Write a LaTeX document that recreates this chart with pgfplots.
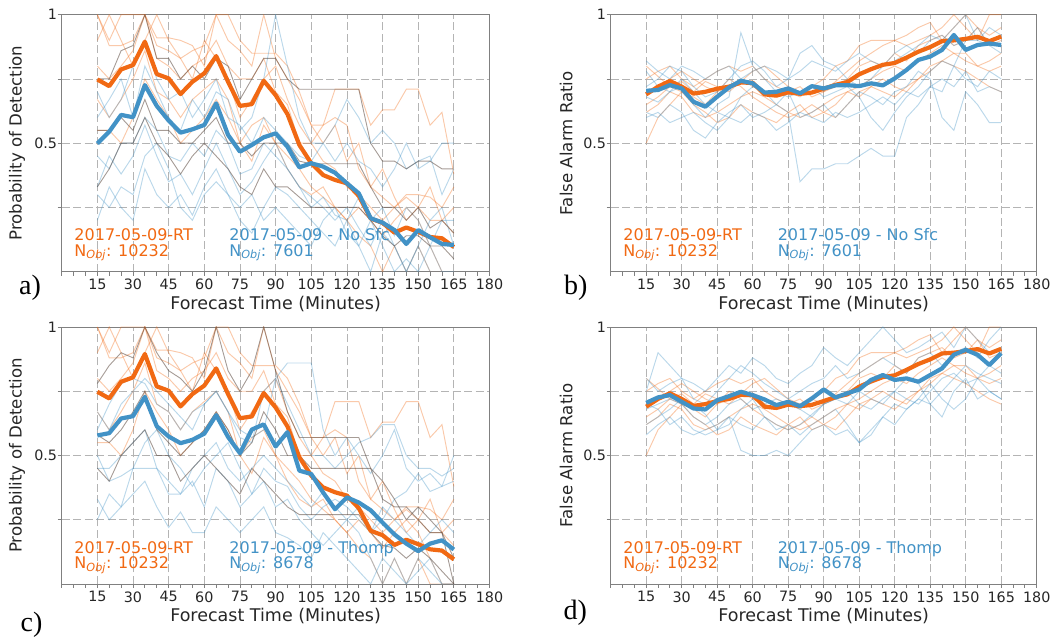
\documentclass[border=0pt]{standalone}
\usepackage{fontspec}
\setmainfont{DejaVu Sans}
\newfontfamily\panelfont{Liberation Serif}
\usepackage{pgfplots}
\usepackage{pgfplotstable}
\pgfplotsset{compat=1.18}

\definecolor{RT}{HTML}{F16913}
\definecolor{Exp}{HTML}{4292C6}
\definecolor{Grid}{HTML}{B4B4B4}
\definecolor{Frame}{HTML}{808080}
\definecolor{Shared}{HTML}{5C4A40}

% probability of detection, RT run (same in a and c): mean + members
\pgfplotstableread{
t mean m1 m2 m3 m4 m5 m6
15 .748 1.0 .8 .67 .9 .55 1.0
20 .722 .88 .75 .6 1.0 .55 .9
25 .787 .88 .8 .67 .9 .5 1.0
30 .804 .9 .86 .75 .8 .6 1.0
35 .895 1.0 1.0 .86 .9 .75 1.0
40 .769 .88 .83 .7 1.0 .67 .91
45 .752 .86 .8 .67 .9 .6 .91
50 .691 .83 .75 .6 .83 .5 .9
55 .739 .86 .8 .67 .75 .55 .88
60 .772 .88 .83 .71 .9 .6 .8
65 .839 1.0 .9 .75 .83 .67 1.0
70 .739 .9 .8 .67 .75 .6 1.0
75 .645 .86 .75 .5 .6 .5 .9
80 .652 .8 .75 .57 .67 .43 .85
85 .743 1.0 .83 .6 .75 .57 .85
90 .687 .83 .7 .5 .8 .5 .85
95 .613 .75 .65 .45 .67 .4 .8
100 .493 .67 .5 .4 .57 .33 .7
105 .422 .57 .5 .33 .5 .3 .57
110 .376 .5 .43 .29 .57 .33 .57
115 .357 .57 .4 .25 .71 .25 .6
120 .344 .43 .33 .2 .71 .2 .57
125 .295 .5 .3 .14 .71 .25 .4
130 .207 .33 .25 .1 .57 .2 .33
135 .190 .4 .2 0 .63 .14 .29
140 .152 .29 .25 .1 .63 .2 .25
145 .172 .2 .29 0 .71 .25 .3
150 .155 .25 .25 .1 .71 .2 .3
155 .135 .33 .2 0 .57 .1 .29
160 .130 .2 .2 0 .62 0 .25
165 .096 .25 .15 0 .38 0 .33
}\podRT

\pgfplotstableread{
t mean m1 m2 m3 m4 m5 m6
15 .499 .33 .2 .6 .45 .7 .3
20 .545 .45 .33 .67 .4 .6 .25
25 .610 .38 .25 .75 .5 .67 .33
30 .601 .45 .2 .6 .5 .8 .3
35 .726 .57 .4 .8 .6 .9 .45
40 .645 .45 .3 .7 .55 .75 .5
45 .588 .35 .25 .6 .45 .67 .4
50 .541 .38 .3 .55 .43 .7 .25
55 .554 .3 .22 .67 .5 .6 .2
60 .571 .4 .33 .6 .45 .67 .3
65 .655 .5 .4 .7 .55 .75 .35
70 .532 .4 .3 .67 .5 .6 .3
75 .467 .3 .2 .55 .38 .57 .25
80 .493 .35 .15 .6 .4 .5 .3
85 .523 .43 .25 .75 .5 .6 .2
90 .538 .5 .33 1.0 .45 .55 .25
95 .486 .4 .3 .8 .4 .5 .2
100 .406 .33 .25 .6 .33 .45 .15
105 .422 .29 .2 .5 .25 .43 .1
110 .409 .25 .15 .5 .29 .5 .2
115 .385 .2 .1 .43 .22 .57 .25
120 .344 .25 .2 .5 .2 .67 .15
125 .305 .17 .1 .43 .29 .6 .1
130 .208 .1 0 .4 .2 .5 .2
135 .191 .2 .15 .33 .25 .55 .1
140 .162 .1 .1 .4 .14 .5 0
145 .108 0 0 .5 .25 .4 .05
150 .162 .1 .1 .4 .2 .43 0
155 .134 .2 0 .43 .1 .45 .1
160 .108 .25 0 .5 .2 .3 0
165 .104 .1 0 .5 .2 .4 0
}\podNoSfc

\pgfplotstableread{
t mean m1 m2 m3 m4 m5 m6
15 .578 .25 .6 .45 .33 .67 .5
20 .587 .35 .7 .45 .25 .6 .4
25 .644 .3 .78 .5 .3 .7 .42
30 .653 .45 .8 .55 .35 .75 .45
35 .728 .45 .78 .6 .4 .8 .55
40 .614 .45 .7 .45 .3 .75 .6
45 .574 .35 .67 .4 .22 .7 .5
50 .548 .35 .6 .35 .28 .65 .45
55 .561 .4 .67 .45 .2 .6 .38
60 .585 .3 .7 .5 .2 .7 .45
65 .657 .45 .75 .55 .3 .75 .5
70 .572 .4 .67 .45 .25 .67 .55
75 .509 .3 .6 .4 .2 .57 .45
80 .601 .35 .57 .45 .25 .55 .35
85 .621 .4 .6 .5 .3 .75 .45
90 .535 .3 .8 .45 .2 .8 .4
95 .591 .33 .86 .4 .18 .7 .38
100 .441 .25 .86 .35 .15 .6 .3
105 .428 .2 .86 .3 .1 .5 .25
110 .356 .15 .6 .36 .2 .5 .3
115 .291 .2 .5 .3 .15 .45 .33
120 .337 .25 .57 .25 .1 .5 .3
125 .317 .2 .5 .3 .05 .55 .25
130 .287 .1 .43 .2 0 .57 .2
135 .239 0 .5 .25 .1 .62 .3
140 .193 .1 .6 .33 .05 .62 .25
145 .157 0 .45 .36 0 .5 .2
150 .128 .05 .4 .43 .1 .45 .15
155 .157 .1 .43 .36 .05 .45 .2
160 .170 0 .38 .38 0 .42 .25
165 .134 0 .5 .4 0 .45 .2
}\podThomp

% members that both runs share (drawn darker)
\pgfplotstableread{
t s1 s2 s3
15 .75 .55 .33
20 .75 .55 .4
25 .86 .6 .5
30 .88 .55 .5
35 1.0 .67 .6
40 .83 .55 .5
45 .83 .55 .45
50 .75 .5 .38
55 .8 .5 .45
60 .75 .55 .5
65 .83 .6 .45
70 .8 .5 .4
75 .67 .5 .33
80 .75 .45 .3
85 .83 .5 .4
90 .83 .5 .33
95 .75 .5 .33
100 .71 .43 .29
105 .71 .42 .25
110 .71 .42 .25
115 .71 .42 .25
120 .71 .42 .25
125 .71 .42 .25
130 .5 .33 .2
135 .43 .25 .14
140 .43 .25 .1
145 .4 .2 .14
150 .43 .25 .14
155 .43 .17 .1
160 .4 .2 .1
165 .4 .15 .05
}\shareA

\pgfplotstableread{
t s1 s2 s3
15 .78 .58 .45
20 .85 .55 .4
25 .9 .6 .5
30 .88 .67 .55
35 1.0 .75 .6
40 .9 .6 .5
45 .83 .55 .5
50 .8 .5 .4
55 .75 .55 .45
60 .83 .6 .5
65 1.0 .67 .45
70 .83 .6 .4
75 .75 .5 .35
80 .83 .55 .45
85 1.0 .67 .4
90 .83 .6 .35
95 .67 .5 .3
100 .57 .5 .27
105 .57 .45 .27
110 .57 .45 .27
115 .57 .45 .27
120 .57 .45 .27
125 .57 .45 .27
130 .45 .45 .2
135 .4 .33 .15
140 .33 .3 .14
145 .25 .3 .1
150 .3 .25 .14
155 .25 .2 .1
160 .2 .2 .05
165 0 .1 0
}\shareC

% false alarm ratio
\pgfplotstableread{
t mean m1 m2 m3 m4 m5 m6
15 .69 .75 .62 .5 .7 .65 .8
20 .72 .78 .65 .6 .72 .68 .76
25 .742 .8 .7 .65 .75 .72 .72
30 .72 .75 .68 .7 .78 .7 .74
35 .693 .72 .62 .65 .75 .68 .7
40 .70 .75 .6 .62 .72 .65 .74
45 .712 .78 .62 .58 .7 .7 .72
50 .72 .8 .65 .6 .72 .75 .7
55 .736 .78 .68 .65 .75 .72 .74
60 .735 .8 .7 .62 .72 .68 .78
65 .69 .75 .68 .6 .7 .65 .8
70 .685 .72 .65 .58 .68 .62 .76
75 .698 .7 .62 .62 .7 .6 .72
80 .692 .68 .6 .65 .72 .62 .7
85 .697 .72 .62 .6 .68 .65 .72
90 .712 .75 .65 .62 .7 .62 .7
95 .727 .8 .68 .6 .74 .65 .72
100 .738 .82 .7 .65 .78 .7 .75
105 .768 .88 .72 .7 .82 .68 .8
110 .788 .9 .75 .72 .85 .72 .82
115 .805 .9 .78 .7 .88 .75 .8
120 .812 .9 .8 .68 .9 .72 .85
125 .833 .88 .78 .72 .92 .7 .82
130 .856 .9 .82 .75 .95 .75 .88
135 .874 .92 .85 .8 .97 .78 .9
140 .897 .95 .88 .82 .9 .82 .92
145 .90 1.0 .85 .8 .95 .85 .88
150 .906 .95 .82 .78 1.0 .85 .9
155 .914 .9 .8 .75 .95 .8 .95
160 .897 1.0 .78 .72 .92 .82 .88
165 .915 1.0 .8 .7 .95 .85 .9
}\farRT

\pgfplotstableread{
t mean m1 m2 m3 m4 m5 m6
15 .704 .78 .62 .72 .68 .6 .82
20 .707 .72 .6 .75 .66 .62 .78
25 .726 .7 .65 .8 .7 .58 .75
30 .713 .75 .62 .78 .72 .6 .8
35 .661 .7 .55 .72 .65 .62 .78
40 .642 .65 .52 .68 .6 .58 .75
45 .681 .62 .58 .7 .65 .55 .78
50 .717 .6 .62 .75 .68 .6 .8
55 .743 .68 .65 .8 .93 .58 .75
60 .733 .72 .6 .82 .8 .62 .78
65 .697 .7 .62 .78 .75 .6 .8
70 .700 .65 .65 .72 .7 .55 .78
75 .713 .62 .7 .75 .68 .58 .75
80 .694 .35 .6 .85 .7 .62 .78
85 .722 .4 .62 .88 .72 .6 .82
90 .713 .4 .65 .82 .68 .58 .8
95 .725 .42 .6 .8 .7 .62 .78
100 .726 .42 .65 .75 .72 .6 .82
105 .722 .45 .7 .72 .68 .62 .85
110 .733 .48 .68 .75 .6 .65 .82
115 .725 .45 .65 .8 .55 .68 .8
120 .752 .45 .7 .82 .62 .65 .85
125 .785 .6 .72 .85 .68 .7 .88
130 .824 .65 .78 .88 .72 .68 .85
135 .837 .72 .75 .92 .78 .72 .9
140 .863 .7 .6 .9 .82 .75 .92
145 .921 .8 .55 .95 .8 .72 .88
150 .863 .9 .7 1.0 .75 .78 .9
155 .882 .95 .65 .9 .72 .7 .9
160 .888 .88 .58 .95 .78 .72 .88
165 .882 .85 .58 .92 .75 .7 .88
}\farNoSfc

\pgfplotstableread{
t mean m1 m2 m3 m4 m5 m6
15 .705 .58 .75 .68 .62 .8 .7
20 .726 .62 .9 .7 .65 .75 .68
25 .735 .65 .85 .72 .68 .78 .62
30 .709 .6 .8 .7 .72 .8 .65
35 .683 .58 .78 .65 .7 .72 .6
40 .679 .6 .75 .62 .66 .7 .58
45 .715 .62 .8 .65 .6 .75 .6
50 .731 .65 .85 .7 .62 .8 .65
55 .748 .52 .82 .72 .68 .85 .62
60 .735 .5 .88 .68 .72 .82 .6
65 .718 .5 .85 .7 .65 .78 .65
70 .696 .52 .8 .72 .6 .75 .62
75 .709 .5 .78 .7 .62 .72 .6
80 .692 .55 .82 .68 .58 .75 .62
85 .722 .6 .85 .65 .62 .78 .66
90 .757 .62 .92 .7 .65 .8 .7
95 .726 .58 .88 .72 .68 .85 .72
100 .742 .6 .85 .75 .62 .8 .7
105 .757 .55 .9 .7 .55 .82 .75
110 .794 .6 .95 .68 .58 .85 .72
115 .813 .65 1.0 .72 .65 .88 .7
120 .794 .7 .95 .75 .62 .85 .75
125 .800 .68 .9 .8 .68 .82 .72
130 .787 .72 .92 .78 .72 .88 .7
135 .813 .7 .95 .7 .78 .9 .75
140 .839 .65 .98 .75 .72 .85 .8
145 .892 .75 .92 .8 .68 .9 .82
150 .911 .8 1.0 .85 .72 .92 .78
155 .892 .72 .95 .82 .8 .88 .8
160 .852 .75 .9 .8 .75 .95 .85
165 .898 .72 .92 .78 .72 1.0 .82
}\farThomp

\newcommand\tickfont{\fontsize{14.3}{16}\selectfont}
\newcommand\xlabfont{\fontsize{17.5}{20}\selectfont}
\newcommand\ylabfont{\fontsize{16.6}{19}\selectfont}
\newcommand\annfont{\fontsize{16}{18}\selectfont}
\newcommand\letterfont{\panelfont\fontsize{28}{30}\selectfont}

\tikzset{
  ann/.style={anchor=base west, inner sep=0pt, font=\annfont},
  letter/.style={anchor=base west, inner sep=0pt, font=\letterfont},
}

\pgfplotsset{
  panel/.style={
    scale only axis,
    height=257pt,
    xmin=0, xmax=180, ymin=0, ymax=1,
    xtick={15,30,...,180},
    minor xtick={0,5,...,180},
    ytick={0.25,0.5,0.75,1},
    yticklabels={,0.5,,1},
    tick pos=left,
    tick align=outside,
    major tick length=4pt,
    minor tick length=4pt,
    every tick/.style={Frame, line width=0.8pt},
    axis line style={Frame, line width=0.9pt},
    xmajorgrids, ymajorgrids,
    major grid style={Grid, line width=0.8pt, dash pattern=on 8pt off 3.5pt},
    tick label style={font=\tickfont, text=black!85},
    yticklabel style={inner sep=0.5pt},
    /pgf/number format/assume math mode=true,
    xlabel={Forecast Time (Minutes)},
    xlabel style={font=\xlabfont, text=black!85, at={(axis description cs:0.5,0)}, anchor=base, yshift=-37.8pt},
    ylabel style={font=\ylabfont, text=black!85, at={(axis description cs:-0.1045,0.5)}, anchor=center},
  },
  member/.style={line width=0.95pt, opacity=0.36},
  sharedmember/.style={line width=0.9pt, Shared, opacity=0.55},
  meanline/.style={line width=4.2pt, line join=round},
}

\begin{document}
\begin{tikzpicture}
\path[use as bounding box] (0,0) rectangle (1055pt,642pt);

% a) probability of detection, No Sfc
\begin{axis}[panel, width=427.8pt, at={(61.7pt,370.3pt)}, anchor=south west,
  ylabel={Probability of Detection}]
\pgfplotsinvokeforeach{m1,m2,m3,m4,m5,m6}{\addplot[member, RT] table[x=t, y=#1] {\podRT};}
\pgfplotsinvokeforeach{m1,m2,m3,m4,m5,m6}{\addplot[member, Exp] table[x=t, y=#1] {\podNoSfc};}
\pgfplotsinvokeforeach{s1,s2,s3}{\addplot[sharedmember] table[x=t, y=#1] {\shareA};}
\addplot[meanline, RT] table[x=t, y=mean] {\podRT};
\addplot[meanline, Exp] table[x=t, y=mean] {\podNoSfc};
\node[ann, text=RT] at (axis cs:5.3,0.12) {2017-05-09-RT};
\node[ann, text=RT] at (axis cs:5.3,0.06) {N\textsubscript{\itshape Obj}: 10232};
\node[ann, text=Exp] at (axis cs:70.5,0.12) {2017-05-09 - No Sfc};
\node[ann, text=Exp] at (axis cs:70.5,0.06) {N\textsubscript{\itshape Obj}: 7601};
\end{axis}

% b) false alarm ratio, No Sfc
\begin{axis}[panel, width=426pt, at={(610.7pt,370.3pt)}, anchor=south west,
  ylabel={False Alarm Ratio}]
\pgfplotsinvokeforeach{m1,m2,m3,m4,m5,m6}{\addplot[member, RT] table[x=t, y=#1] {\farRT};}
\pgfplotsinvokeforeach{m1,m2,m3,m4,m5,m6}{\addplot[member, Exp] table[x=t, y=#1] {\farNoSfc};}
\addplot[meanline, RT] table[x=t, y=mean] {\farRT};
\addplot[meanline, Exp] table[x=t, y=mean] {\farNoSfc};
\node[ann, text=RT] at (axis cs:5.3,0.12) {2017-05-09-RT};
\node[ann, text=RT] at (axis cs:5.3,0.06) {N\textsubscript{\itshape Obj}: 10232};
\node[ann, text=Exp] at (axis cs:70.5,0.12) {2017-05-09 - No Sfc};
\node[ann, text=Exp] at (axis cs:70.5,0.06) {N\textsubscript{\itshape Obj}: 7601};
\end{axis}

% c) probability of detection, Thompson
\begin{axis}[panel, width=427.8pt, at={(61.7pt,58pt)}, anchor=south west,
  ylabel={Probability of Detection}]
\pgfplotsinvokeforeach{m1,m2,m3,m4,m5,m6}{\addplot[member, RT] table[x=t, y=#1] {\podRT};}
\pgfplotsinvokeforeach{m1,m2,m3,m4,m5,m6}{\addplot[member, Exp] table[x=t, y=#1] {\podThomp};}
\pgfplotsinvokeforeach{s1,s2,s3}{\addplot[sharedmember] table[x=t, y=#1] {\shareC};}
\addplot[meanline, RT] table[x=t, y=mean] {\podRT};
\addplot[meanline, Exp] table[x=t, y=mean] {\podThomp};
\node[ann, text=RT] at (axis cs:5.3,0.12) {2017-05-09-RT};
\node[ann, text=RT] at (axis cs:5.3,0.06) {N\textsubscript{\itshape Obj}: 10232};
\node[ann, text=Exp] at (axis cs:70.5,0.12) {2017-05-09 - Thomp};
\node[ann, text=Exp] at (axis cs:70.5,0.06) {N\textsubscript{\itshape Obj}: 8678};
\end{axis}

% d) false alarm ratio, Thompson
\begin{axis}[panel, width=426pt, at={(610.7pt,58pt)}, anchor=south west,
  ylabel={False Alarm Ratio}]
\pgfplotsinvokeforeach{m1,m2,m3,m4,m5,m6}{\addplot[member, RT] table[x=t, y=#1] {\farRT};}
\pgfplotsinvokeforeach{m1,m2,m3,m4,m5,m6}{\addplot[member, Exp] table[x=t, y=#1] {\farThomp};}
\addplot[meanline, RT] table[x=t, y=mean] {\farRT};
\addplot[meanline, Exp] table[x=t, y=mean] {\farThomp};
\node[ann, text=RT] at (axis cs:5.3,0.12) {2017-05-09-RT};
\node[ann, text=RT] at (axis cs:5.3,0.06) {N\textsubscript{\itshape Obj}: 10232};
\node[ann, text=Exp] at (axis cs:70.5,0.12) {2017-05-09 - Thomp};
\node[ann, text=Exp] at (axis cs:70.5,0.06) {N\textsubscript{\itshape Obj}: 8678};
\end{axis}

\node[letter] at (19pt,347.5pt) {a)};
\node[letter] at (564pt,347.5pt) {b)};
\node[letter] at (20.5pt,10.3pt) {c)};
\node[letter] at (563.5pt,22.5pt) {d)};
\end{tikzpicture}
\end{document}
